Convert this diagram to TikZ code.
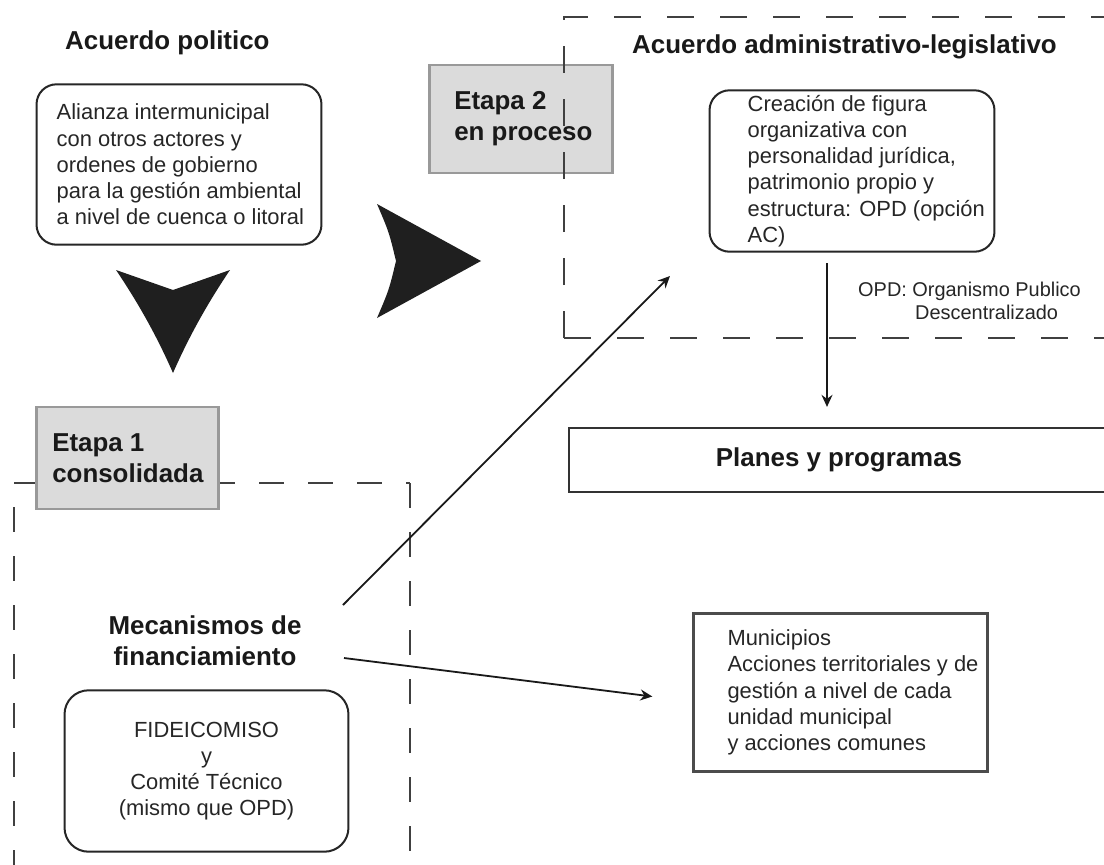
\documentclass[tikz,border=0pt]{standalone}
\usepackage{fontspec}
\setmainfont{Liberation Sans}
\usetikzlibrary{arrows,arrows.meta,positioning}

\tikzset{
caja/.style={draw=black!85,line width=2bp,rounded corners=20bp,inner sep=0},
etapa/.style={draw=black!40,fill=black!14,line width=2.5bp,inner sep=0},
marco/.style={draw=black!80,line width=2.5bp,inner sep=0},
texto/.style={font=\fontsize{22}{26.3}\selectfont,text=black!85,align=left,inner sep=0},
titulo/.style={font=\bfseries\fontsize{26}{31}\selectfont,text=black!90,inner sep=0},
nota/.style={font=\fontsize{20}{23}\selectfont,text=black!85,align=left,inner sep=0},
trazo/.style={draw=black!75,line width=2bp,dash pattern=on 27bp off 26bp},
flecha/.style={draw=black!90,line width=1.8bp,-{Stealth[length=12bp,width=11bp,inset=4bp]}},
punta/.style={fill=black!88,draw=none}
}

\begin{document}
\begin{tikzpicture}[x=1bp,y=-1bp]
\clip (0,0) rectangle (1104,865);
\fill[white] (0,0) rectangle (1104,865);

\node[etapa,minimum width=184,minimum height=108] (etapa2) at (521,119) {};
\node[titulo,align=left,right=26bp of etapa2.west] (tetapa2) {Etapa 2\\en proceso};

\draw[trazo] (564,338) -- (564,17) -- (1104,17);
\draw[trazo] (564,338) -- (1104,338);
\draw[trazo,dash pattern=on 25bp off 24bp] (14,483) -- (410,483);
\draw[trazo,dash pattern=on 25bp off 24bp,dash phase=25bp] (14,483) -- (14,865);
\draw[trazo,dash pattern=on 25bp off 24bp] (410,483) -- (410,865);

\node[titulo,anchor=west] (acpol) at (65,43) {Acuerdo politico};
\node[titulo,anchor=west] (acadm) at (632,47) {Acuerdo administrativo-legislativo};

\node[caja,minimum width=286,minimum height=161] (alianza) at (179,164.5) {};
\node[texto,right=21bp of alianza.west] (talianza) {Alianza intermunicipal\\con otros actores y\\ordenes de gobierno\\para la gestión ambiental\\a nivel de cuenca o litoral};

\node[caja,minimum width=286,minimum height=162] (creacion) at (852,171) {};
\node[texto,right=39bp of creacion.west] (tcreacion) {Creación de figura\\organizativa con\\personalidad jurídica,\\patrimonio propio y\\estructura: OPD (opción\\AC)};

\node[nota,anchor=west] (opd) at (858,301) {OPD: Organismo Publico\\\hspace*{57bp}Descentralizado};

\fill[punta] (116,270) -- (173,290) -- (230,270) .. controls (205,307) and (187,341) .. (173,373) .. controls (159,341) and (141,307) .. (116,270) -- cycle;
\fill[punta] (377,204) -- (481,261) -- (377,318) .. controls (389,290) .. (396,261) .. controls (389,232) .. (377,204) -- cycle;

\node[marco,minimum width=542,minimum height=64,font=\bfseries\fontsize{26}{31}\selectfont,text=black!90] (planes) at (839,460) {Planes y programas};

\node[etapa,minimum width=183,minimum height=102] (etapa1) at (127.5,458) {};
\node[titulo,align=left,right=17bp of etapa1.west] (tetapa1) {Etapa 1\\consolidada};

\node[titulo,align=center] (mecan) at (205,641) {Mecanismos de\\financiamiento};

\node[caja,rounded corners=24bp,minimum width=285,minimum height=162,texto,align=center] (fideo) at (206.5,771) {FIDEICOMISO\\y\\Comité Técnico\\(mismo que OPD)};

\node[marco,draw=black!70,minimum width=295,minimum height=159] (muni) at (840.5,692.5) {};
\node[texto,right=35bp of muni.west] (tmuni) {Municipios\\Acciones territoriales y de\\gestión a nivel de cada\\unidad municipal\\y acciones comunes};

\coordinate (c1) at (827,263);
\coordinate (c2) at (343,605);
\coordinate (c3) at (670,276);
\coordinate (c4) at (344,658);
\draw[flecha,shorten >=20bp] (c1) -- (c1 |- planes.north);
\draw[flecha] (c2) -- (c3);
\draw[flecha] (c4) -- ([xshift=-40bp,yshift=-4bp]muni.west);
\end{tikzpicture}
\end{document}
